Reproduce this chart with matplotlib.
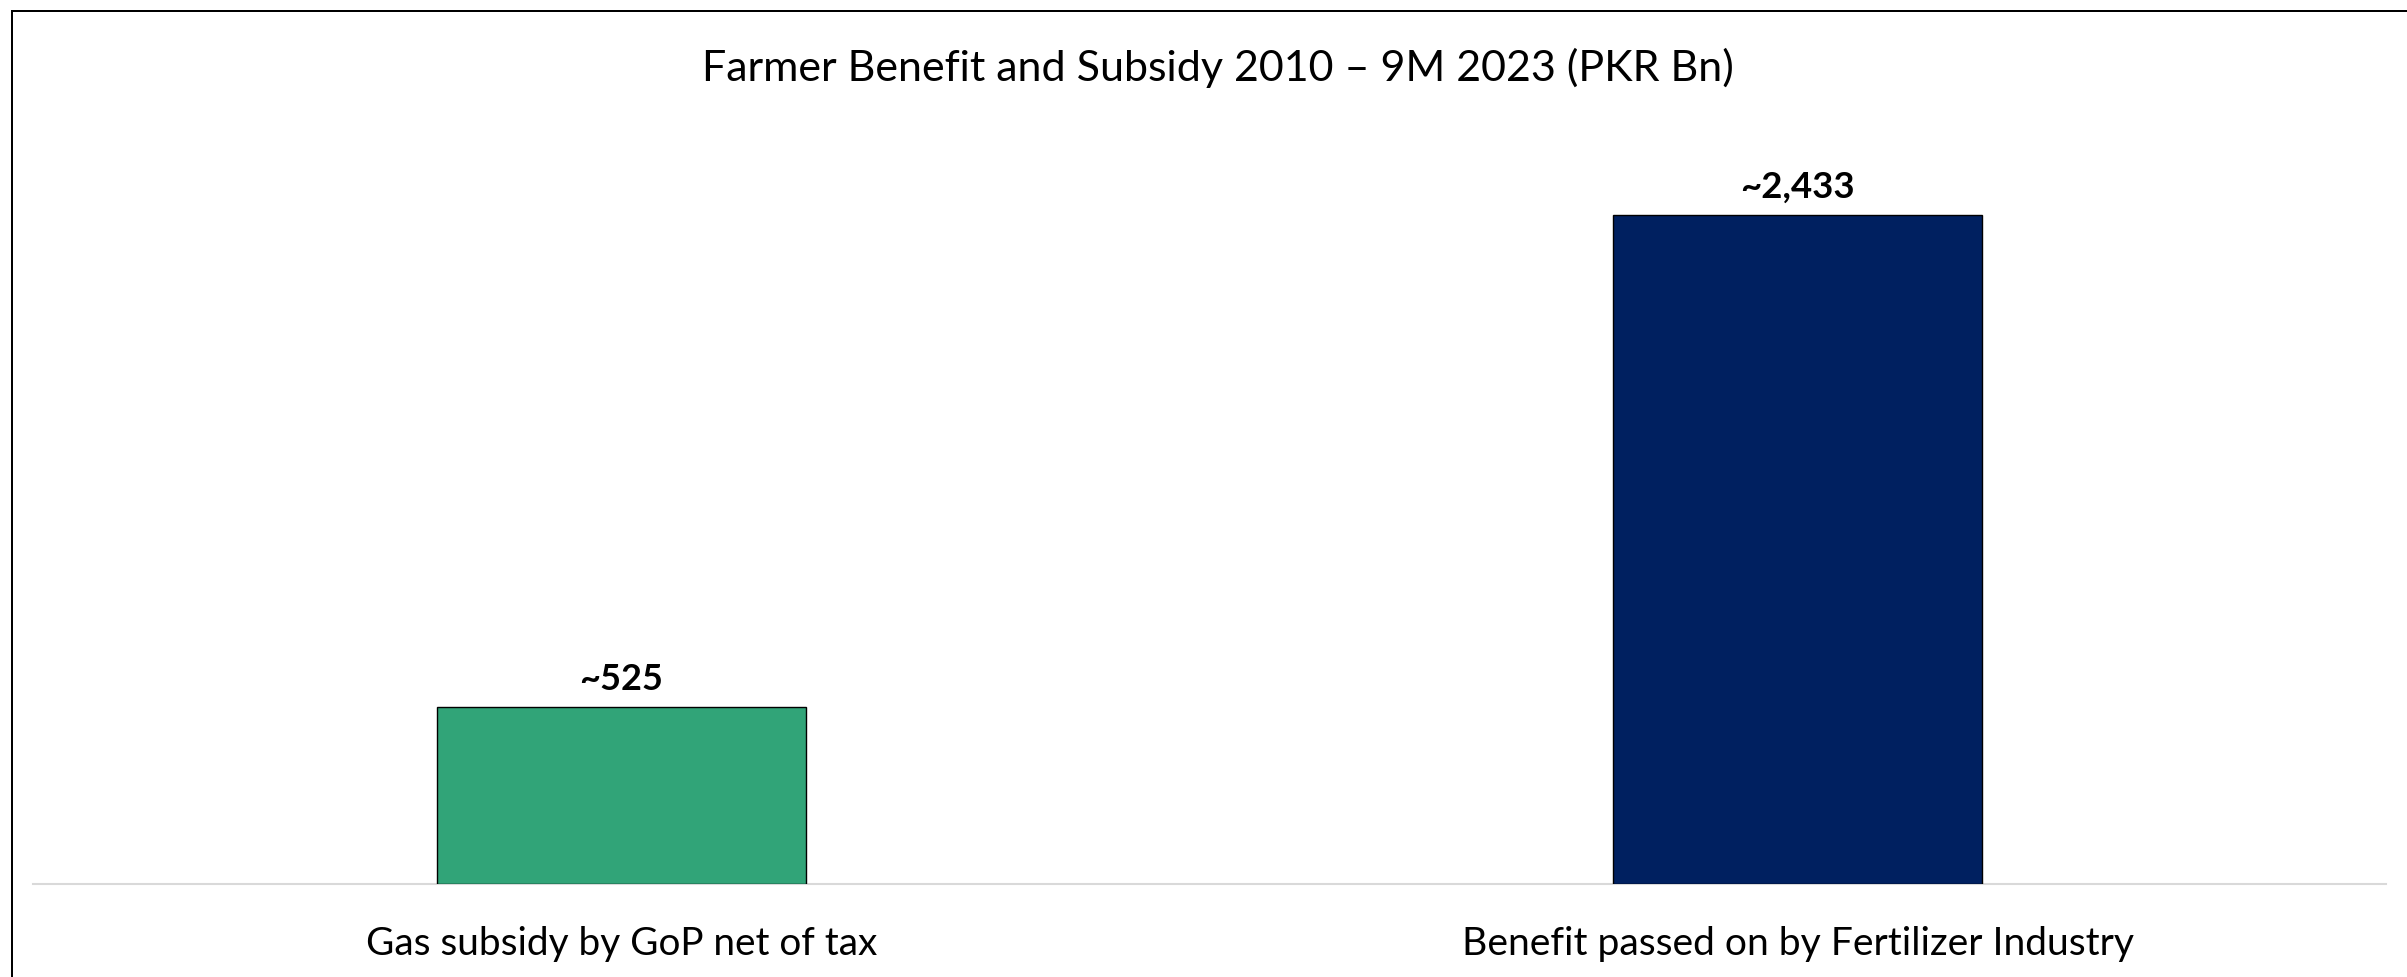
import matplotlib
matplotlib.use("Agg")
import matplotlib.pyplot as plt
from matplotlib.lines import Line2D

# ---- data ----
categories = ["Gas subsidy by GoP net of tax", "Benefit passed on by Fertilizer Industry"]
value_labels = ["~525", "~2,433"]
bar_heights = [644, 2433]          # heights as drawn in the reference
bar_colors = ["#31A478", "#002060"]
title = "Farmer Benefit and Subsidy 2010 \u2013 9M 2023 (PKR Bn)"

W, H = 2407, 977
DPI = 100
plt.rcParams["font.family"] = ["Lato", "DejaVu Sans"]

fig = plt.figure(figsize=(W / DPI, H / DPI), dpi=DPI)
fig.patch.set_facecolor("white")

ax_bottom_px, ax_top_px = 884, 100
ax = fig.add_axes([33 / W, 1 - ax_bottom_px / H, (2386 - 33) / W, (ax_bottom_px - ax_top_px) / H])
ymax = bar_heights[1] * (ax_bottom_px - ax_top_px) / (884 - 215)

x = list(range(len(categories)))
bars = ax.bar(x, bar_heights, width=0.314, color=bar_colors, edgecolor="black", linewidth=1.0, zorder=3)
ax.set_xlim(-0.5, 1.5)
ax.set_ylim(0, ymax)
for s in ["left", "right", "top"]:
    ax.spines[s].set_visible(False)
ax.spines["bottom"].set_color("#D9D9D9")
ax.spines["bottom"].set_linewidth(1.5)
ax.set_yticks([])
ax.set_xticks([])

texts = []
# value labels
for i, (b, lab) in enumerate(zip(bars, value_labels)):
    t = ax.annotate(lab, (b.get_x() + b.get_width() / 2, b.get_height()),
                    xytext=(0, 17), textcoords="offset pixels",
                    ha="center", va="baseline", fontsize=24, fontweight="bold", color="black")
    texts.append((t, [84, 115][i]))

# category labels (baseline at y=955 px)
yb = (ax_bottom_px - 955) / (ax_bottom_px - ax_top_px)
for i, c in enumerate(categories):
    t = ax.text(i, yb, c, transform=ax.get_xaxis_transform(), ha="center", va="baseline",
                fontsize=24, color="black")
    texts.append((t, [511, 671][i]))

# title (baseline at y=81 px)
tt = fig.text(1218 / W, 1 - 81 / H, title, ha="center", va="baseline", fontsize=26, color="black")
texts.append((tt, 1034))

# fit font sizes to reference widths
fig.canvas.draw()
r = fig.canvas.get_renderer()
for t, target in texts:
    w = t.get_window_extent(r).width
    t.set_fontsize(t.get_fontsize() * target / w)

# outer frame (left and top edges visible)
lw = 2 * 72 / DPI
fig.add_artist(Line2D([12 / W, 12 / W], [0, 1 - 11 / H], transform=fig.transFigure, color="black", lw=lw))
fig.add_artist(Line2D([12 / W, 1], [1 - 11 / H, 1 - 11 / H], transform=fig.transFigure, color="black", lw=lw))

fig.savefig("out.png", dpi=DPI, facecolor="white")
